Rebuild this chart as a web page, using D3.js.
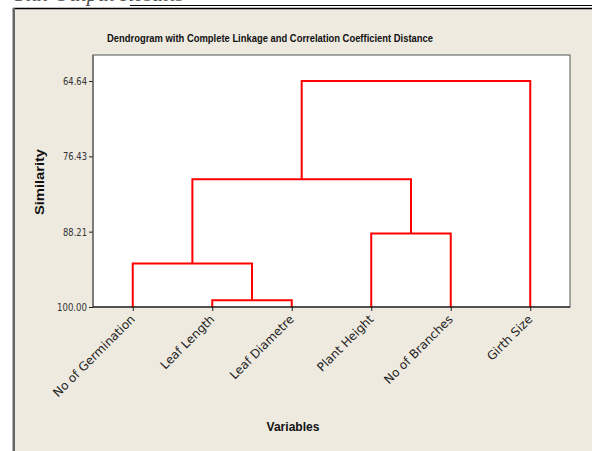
<!DOCTYPE html>
<html>
<head>
<meta charset="utf-8">
<script src="https://cdn.jsdelivr.net/npm/d3@7/dist/d3.min.js"></script>
<style>
  html, body { margin: 0; padding: 0; background: #ffffff; }
  svg { display: block; }
</style>
</head>
<body>
<svg id="chart" width="592" height="451"></svg>
<script>
// ---- data ----
const leaves = ["No of Germination", "Leaf Length", "Leaf Diametre", "Plant Height", "No of Branches", "Girth Size"];
const yTicks = [64.64, 76.43, 88.21, 100.00];
const mergeIds = ["M1", "M2", "M3", "M4", "M5"];
const mergeLeft = ["Leaf Length", "No of Germination", "Plant Height", "M2", "M4"];
const mergeRight = ["Leaf Diametre", "M1", "No of Branches", "M3", "Girth Size"];
const mergeSimilarity = [98.95, 93.2, 88.5, 80.0, 64.64];
const titleText = "Dendrogram with Complete Linkage and Correlation Coefficient Distance";
const yLabel = "Similarity";
const xLabel = "Variables";

// ---- layout ----
const svg = d3.select("#chart");
const W = 592, H = 451;
const plot = { left: 93, right: 570, top: 55, bottom: 307 };

// page header fragment (cut off at the top in the source image)
svg.append("text")
  .attr("x", 14).attr("y", 0.5)
  .attr("font-family", "Liberation Serif, serif")
  .attr("font-style", "italic")
  .attr("font-size", 22).attr("fill", "#555")
  .text("Stat Output Results");

// outer panel
svg.append("rect").attr("x", 13).attr("y", 8).attr("width", W - 13).attr("height", H - 8)
  .attr("fill", "#EEEAE0");
svg.append("line").attr("x1", 13).attr("x2", W).attr("y1", 8.5).attr("y2", 8.5)
  .attr("stroke", "#000").attr("stroke-width", 1.5);
svg.append("line").attr("x1", 130).attr("x2", W).attr("y1", 5.5).attr("y2", 5.5)
  .attr("stroke", "#000").attr("stroke-width", 1);
svg.append("rect").attr("x", 12.5).attr("y", 8).attr("width", 2.5).attr("height", H - 8)
  .attr("fill", "#666");

// title
svg.append("text")
  .attr("x", 270).attr("y", 42)
  .attr("text-anchor", "middle")
  .attr("font-family", "Liberation Sans, Arial, sans-serif")
  .attr("font-weight", "bold").attr("font-size", 10)
  .attr("textLength", 326).attr("lengthAdjust", "spacingAndGlyphs")
  .attr("fill", "#111")
  .text(titleText);

// plot area
svg.append("rect")
  .attr("x", plot.left).attr("y", plot.top)
  .attr("width", plot.right - plot.left).attr("height", plot.bottom - plot.top)
  .attr("fill", "#fff").attr("stroke", "#555").attr("stroke-width", 1);

// scales
const x = d3.scalePoint().domain(leaves).range([plot.left, plot.right]).padding(0.5);
const y = d3.scaleLinear().domain([100, 60.57]).range([plot.bottom, plot.top]);

// node positions
const pos = {};
leaves.forEach(l => { pos[l] = { x: x(l), y: y(100) }; });
mergeIds.forEach((id, i) => {
  const a = pos[mergeLeft[i]], b = pos[mergeRight[i]];
  pos[id] = { x: (a.x + b.x) / 2, y: y(mergeSimilarity[i]), ax: a.x, ay: a.y, bx: b.x, by: b.y };
});

// dendrogram links
const g = svg.append("g");
g.selectAll("path.link").data(mergeIds).join("path")
  .attr("class", "link")
  .attr("fill", "none")
  .attr("stroke", "#FF0000")
  .attr("stroke-width", 2)
  .attr("d", id => {
    const p = pos[id];
    return `M${p.ax},${p.ay}V${p.y}H${p.bx}V${p.by}`;
  });

// axes
const yAxis = d3.axisLeft(y).tickValues(yTicks).tickFormat(d3.format(".2f")).tickSize(4).tickPadding(2);
const ya = svg.append("g").attr("transform", `translate(${plot.left},0)`).call(yAxis);
ya.select(".domain").remove();
ya.append("line").attr("x1", 0).attr("x2", 0).attr("y1", plot.top).attr("y2", plot.bottom)
  .attr("stroke", "#555");
ya.selectAll(".tick line").attr("stroke", "#222");
ya.selectAll(".tick text")
  .attr("font-family", "DejaVu Sans, sans-serif").attr("font-size", 10.5)
  .attr("textLength", d => d >= 100 ? 30 : 24).attr("lengthAdjust", "spacingAndGlyphs")
  .attr("fill", "#333");

const xAxis = d3.axisBottom(x).tickSize(4).tickFormat("");
const xa = svg.append("g").attr("transform", `translate(0,${plot.bottom})`).call(xAxis);
xa.select(".domain").remove();
xa.append("line").attr("x1", plot.left).attr("x2", plot.right).attr("y1", 0).attr("y2", 0)
  .attr("stroke", "#000").attr("stroke-width", 1.2);
xa.selectAll(".tick line").attr("stroke", "#222");

svg.append("g").selectAll("text").data(leaves).join("text")
  .attr("transform", d => `translate(${x(d) + 3},${plot.bottom + 13}) rotate(-45)`)
  .attr("text-anchor", "end")
  .attr("font-family", "DejaVu Sans, sans-serif")
  .attr("font-size", 12).attr("fill", "#222")
  .text(d => d);

// axis titles
svg.append("text")
  .attr("transform", "translate(44,182) rotate(-90)")
  .attr("text-anchor", "middle")
  .attr("font-family", "Liberation Sans, Arial, sans-serif").attr("font-weight", "bold")
  .attr("font-size", 13).attr("fill", "#111")
  .attr("textLength", 66).attr("lengthAdjust", "spacingAndGlyphs")
  .text(yLabel);
svg.append("text")
  .attr("x", 293).attr("y", 431)
  .attr("text-anchor", "middle")
  .attr("font-family", "Liberation Sans, Arial, sans-serif").attr("font-weight", "bold")
  .attr("font-size", 12.5).attr("fill", "#111")
  .attr("textLength", 53).attr("lengthAdjust", "spacingAndGlyphs")
  .text(xLabel);
</script>
</body>
</html>
